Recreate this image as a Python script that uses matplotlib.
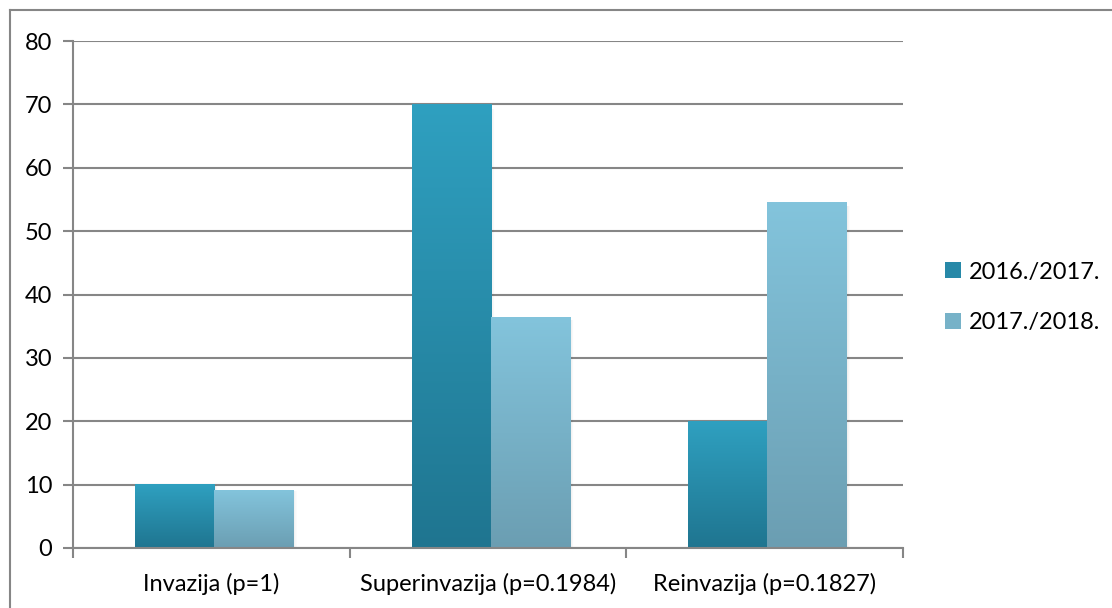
import numpy as np
import matplotlib.pyplot as plt
from matplotlib.colors import LinearSegmentedColormap
from matplotlib.patches import Patch
from matplotlib.lines import Line2D

categories = ["Invazija (p=1)", "Superinvazija (p=0.1984)", "Reinvazija (p=0.1827)"]
series_names = ["2016./2017.", "2017./2018."]
values_1617 = [10, 70, 20]
values_1718 = [9.09, 36.36, 54.55]

plt.rcParams['font.family'] = ['Lato', 'DejaVu Sans']

grad_1 = LinearSegmentedColormap.from_list("g1", ["#1f7590", "#2fa0c0"])
grad_2 = LinearSegmentedColormap.from_list("g2", ["#6b9eb2", "#83c4dc"])

fig = plt.figure(figsize=(11.12, 6.08), dpi=100)
ax = fig.add_axes([73/1112, 1 - 548/608, 830/1112, 507/608])

x = np.arange(len(categories))
w = 0.286
shift = 0.01
grid_c = "#868686"
fs = 17

def gradient_bars(bars, cmap):
    g = np.linspace(0, 1, 256).reshape(-1, 1)
    for b in bars:
        x0, y0 = b.get_x(), b.get_y()
        bw, bh = b.get_width(), b.get_height()
        # soft shadow on the right
        for k in range(6):
            ax.bar(x0 + bw + 0.002 * k, bh * 0.99, width=0.004, bottom=0, align="edge",
                   color="black", alpha=0.035 * (6 - k) / 6, zorder=2, linewidth=0)
        ax.imshow(g, cmap=cmap, origin="lower", aspect="auto",
                  extent=(x0, x0 + bw, y0, y0 + bh), zorder=3)

bars1 = ax.bar(x + shift - w / 2, values_1617, width=w, color="none", zorder=3)
bars2 = ax.bar(x + shift + w / 2, values_1718, width=w, color="none", zorder=3)
gradient_bars(bars1, grad_1)
gradient_bars(bars2, grad_2)

ax.set_xlim(-0.5, 2.5)
ax.set_ylim(0, 80)
ax.set_yticks(range(0, 81, 10))
ax.set_xticks(x)
ax.set_xticklabels(categories, fontsize=fs)
ax.tick_params(axis="x", length=0, pad=18)
ax.set_xticks([-0.5, 0.5, 1.5, 2.5], minor=True)
ax.tick_params(axis="x", which="minor", length=7, color=grid_c, width=1.5, direction="out")
ax.tick_params(axis="y", length=7, color=grid_c, width=1.5, labelsize=fs, pad=8)
ax.yaxis.grid(True, color=grid_c, linewidth=1.5)
ax.set_axisbelow(True)
for s in ["top", "right"]:
    ax.spines[s].set_visible(False)
for s in ["left", "bottom"]:
    ax.spines[s].set_color(grid_c)
    ax.spines[s].set_linewidth(1.5)
    ax.spines[s].set_zorder(4)

handles = [Patch(facecolor="#2789a8", edgecolor="none"),
           Patch(facecolor="#77b2c8", edgecolor="none")]
fig.legend(handles, series_names, loc="center left", bbox_to_anchor=(0.831, 0.511),
           frameon=False, fontsize=fs, handlelength=0.65, handleheight=0.65,
           handletextpad=0.35, labelspacing=1.25)

# outer chart frame (top and left visible)
fig.add_artist(Line2D([10/1112, 1], [1 - 10/608, 1 - 10/608], color=grid_c, lw=1.5))
fig.add_artist(Line2D([10/1112, 10/1112], [0, 1 - 10/608], color=grid_c, lw=1.5))

fig.savefig("out.png", dpi=100)
